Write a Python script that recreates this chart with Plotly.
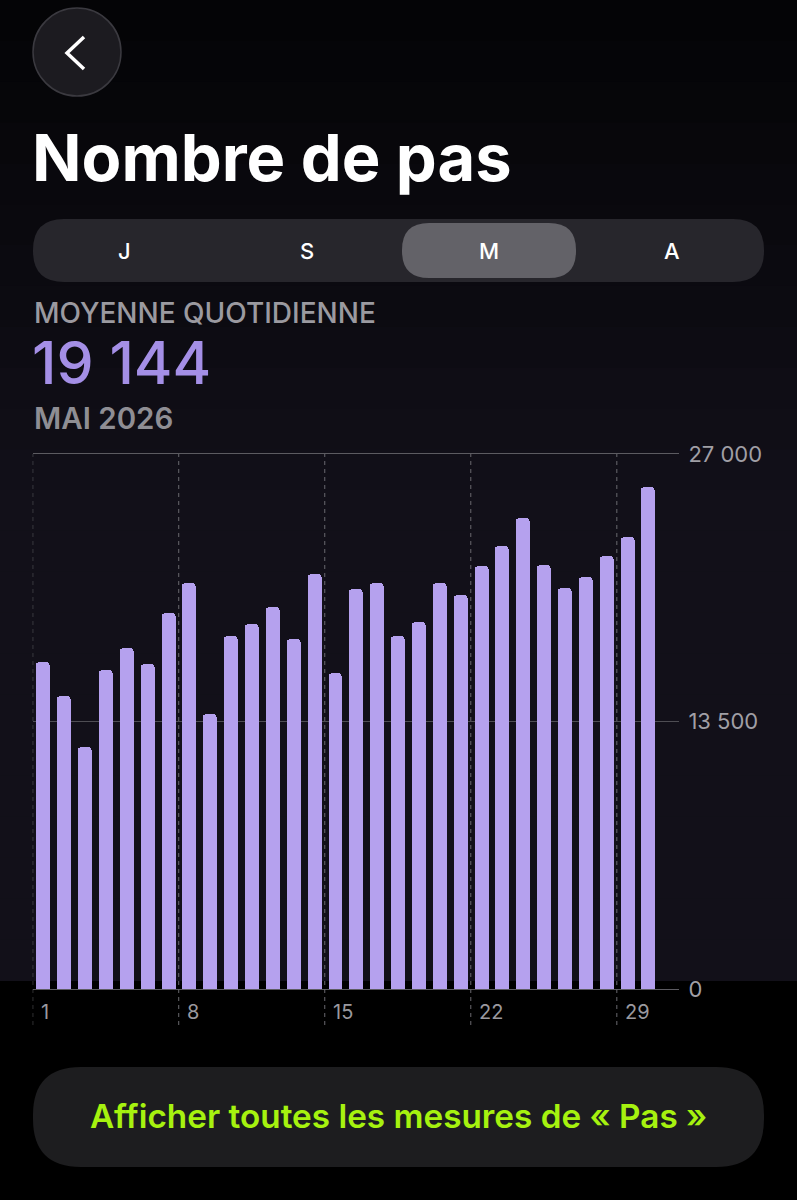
import plotly.graph_objects as go

# ---- data ----
days = list(range(1, 31))
steps = [16480, 14770, 12230, 16110, 17190, 16420, 18970, 20470, 13860, 17840,
         18400, 19290, 17640, 20960, 15930, 20200, 20470, 17810, 18540, 20500,
         19860, 21330, 22360, 23790, 21400, 20240, 20800, 21870, 22800, 25320]
y_tickvals = [0, 13500, 27000]
y_ticktext = ["0", "13 500", "27 000"]
week_starts = [0.5, 7.5, 14.5, 21.5, 28.5]
week_labels = ["1", "8", "15", "22", "29"]
segments = ["J", "S", "M", "A"]
title = "Nombre de pas"
avg_label = "MOYENNE QUOTIDIENNE"
avg_value = "19 144"
period = "MAI 2026"
button_text = "Afficher toutes les mesures de « Pas »"

W, H = 797, 1200
FONT = "Inter"

def py(y):  # pixel y -> paper y
    return 1 - y / H

def px(x):
    return x / W

fig = go.Figure()
fig.add_trace(go.Bar(
    x=days, y=steps, width=0.67,
    marker=dict(color="#b5a1ee", cornerradius=4, line=dict(width=0)),
    hoverinfo="skip",
))

shapes = []
# background gradient bands
n = 24
for i in range(n):
    y0 = i * 980 / n
    y1 = (i + 1) * 980 / n + 1
    t = min(1.0, (i + 0.5) / (n * 0.5))
    r = int(4 + (18 - 4) * t)
    g = int(4 + (16 - 4) * t)
    b = int(6 + (25 - 6) * t)
    shapes.append(dict(type="rect", xref="paper", yref="paper", x0=0, x1=1,
                       y0=py(y1), y1=py(y0), fillcolor=f"rgb({r},{g},{b})",
                       line=dict(width=0), layer="below"))
shapes.append(dict(type="rect", xref="paper", yref="paper", x0=0, x1=1,
                   y0=0, y1=py(989), fillcolor="#000000", line=dict(width=0), layer="below"))

# back button
shapes.append(dict(type="circle", xref="paper", yref="paper",
                   x0=px(33), x1=px(121), y0=py(96), y1=py(8),
                   fillcolor="#1c1b20", line=dict(color="#3b3a40", width=1.5)))
shapes.append(dict(type="path", xref="paper", yref="paper",
                   path=f"M {px(84)} {py(37)} L {px(67)} {py(53)} L {px(84)} {py(69)}",
                   line=dict(color="#ffffff", width=3.5)))

def rrect(x0, y0, x1, y1, r):
    X0, X1 = px(x0), px(x1)
    rx, ry = r / W, r / H
    Y0, Y1 = py(y1), py(y0)  # bottom, top in paper
    return (f"M {X0+rx} {Y1} L {X1-rx} {Y1} Q {X1} {Y1} {X1} {Y1-ry} "
            f"L {X1} {Y0+ry} Q {X1} {Y0} {X1-rx} {Y0} L {X0+rx} {Y0} "
            f"Q {X0} {Y0} {X0} {Y0+ry} L {X0} {Y1-ry} Q {X0} {Y1} {X0+rx} {Y1} Z")

# segmented control
shapes.append(dict(type="path", xref="paper", yref="paper", path=rrect(33, 219, 764, 282, 31),
                   fillcolor="#27262c", line=dict(width=0)))
shapes.append(dict(type="path", xref="paper", yref="paper", path=rrect(402, 223, 576, 278, 27),
                   fillcolor="#636268", line=dict(width=0)))
# bottom button
shapes.append(dict(type="path", xref="paper", yref="paper", path=rrect(33, 1067, 764, 1167, 48),
                   fillcolor="#1d1d1f", line=dict(width=0)))

# dashed week separators
for xv in week_starts:
    shapes.append(dict(type="line", xref="x", yref="paper", x0=xv, x1=xv,
                       y0=py(1025), y1=py(454),
                       line=dict(color="#6a696f", width=1, dash="4px,4px")))

annotations = []
annotations.append(dict(text=f"<b>{title}</b>", xref="paper", yref="paper", x=px(30), y=py(158),
                        xanchor="left", yanchor="middle", showarrow=False,
                        font=dict(family=FONT, size=65, color="#ffffff")))
seg_x = [124, 307, 489, 672]
for s, xx in zip(segments, seg_x):
    annotations.append(dict(text=s, xref="paper", yref="paper", x=px(xx), y=py(251),
                            xanchor="center", yanchor="middle", showarrow=False,
                            font=dict(family=FONT, size=22, color="#ffffff", weight=500)))
annotations.append(dict(text=avg_label, xref="paper", yref="paper", x=px(32), y=py(313),
                        xanchor="left", yanchor="middle", showarrow=False,
                        font=dict(family=FONT, size=28, color="#9b9aa0", weight=500)))
annotations.append(dict(text=avg_value, xref="paper", yref="paper", x=px(30), y=py(362),
                        xanchor="left", yanchor="middle", showarrow=False,
                        font=dict(family=FONT, size=59, color="#a48fe6", weight=500)))
annotations.append(dict(text=period, xref="paper", yref="paper", x=px(32), y=py(418),
                        xanchor="left", yanchor="middle", showarrow=False,
                        font=dict(family=FONT, size=29.5, color="#8f8e94", weight=600)))
annotations.append(dict(text=button_text, xref="paper", yref="paper", x=px(398), y=py(1116),
                        xanchor="center", yanchor="middle", showarrow=False,
                        font=dict(family=FONT, size=33.3, color="#a6f20f", weight=600)))
for xv, lab in zip(week_starts, week_labels):
    annotations.append(dict(text=lab, xref="x", yref="paper", x=xv, y=py(1012),
                            xanchor="left", yanchor="middle", xshift=6, showarrow=False,
                            font=dict(family=FONT, size=20, color="#9a999f")))

fig.update_layout(
    width=W, height=H, margin=dict(l=0, r=0, t=0, b=0, pad=0, autoexpand=False),
    paper_bgcolor="#000000", plot_bgcolor="rgba(0,0,0,0)",
    showlegend=False, bargap=0,
    shapes=shapes, annotations=annotations,
    xaxis=dict(domain=[px(32.7), px(679.4)], range=[0.5, 31.5], showgrid=False,
               zeroline=False, showticklabels=False, ticks="", fixedrange=True,
               automargin=False,
               showline=True, mirror=True, linecolor="#5c5b61", linewidth=1),
    yaxis=dict(domain=[py(989), py(454)], range=[0, 27000], side="right",
               tickvals=y_tickvals, ticktext=y_ticktext, showgrid=True,
               gridcolor="#4e4d53", gridwidth=1, zeroline=False, ticks="",
               ticklabelstandoff=8, showline=False, automargin=False,
               tickfont=dict(family=FONT, size=22, color="#a09fa5"), fixedrange=True),
)

fig.write_html(
    "out.html",
    config={"displayModeBar": False},
    post_script="document.body.style.margin='0';document.body.style.background='#000';"
                "document.documentElement.style.background='#000';",
)
